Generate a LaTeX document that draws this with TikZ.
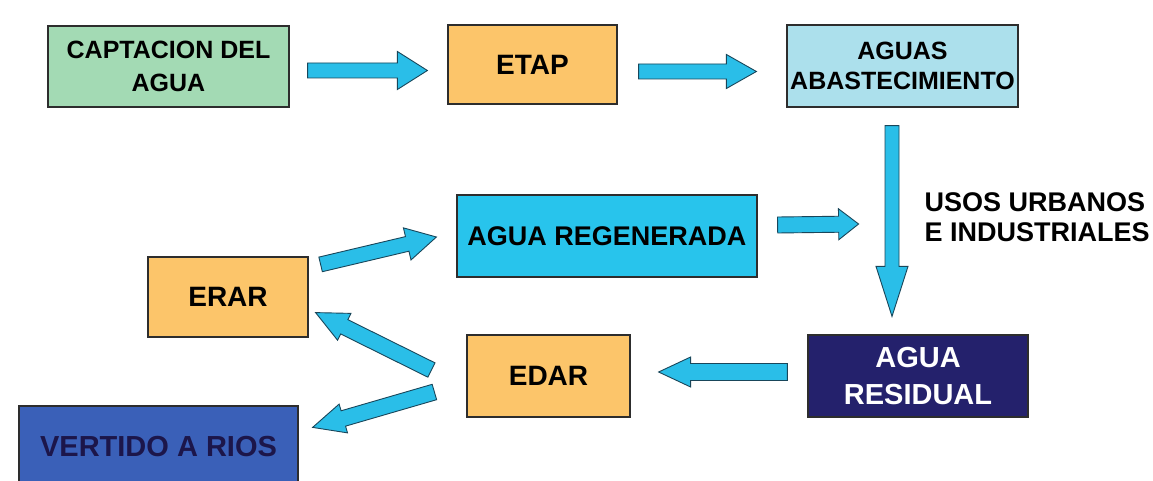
\documentclass[tikz,border=0pt]{standalone}
\usepackage{fontspec}
\setmainfont{Liberation Sans}
\usetikzlibrary{calc}
\definecolor{capgreen}{RGB}{163,218,180}
\definecolor{plantorange}{RGB}{252,197,106}
\definecolor{supplyblue}{RGB}{172,224,236}
\definecolor{reusecyan}{RGB}{40,196,236}
\definecolor{wastenavy}{RGB}{36,33,108}
\definecolor{riverblue}{RGB}{58,96,184}
\definecolor{rivertext}{RGB}{28,22,74}
\definecolor{arrowcyan}{RGB}{42,190,232}
\definecolor{arrowline}{RGB}{25,70,90}
\definecolor{boxline}{RGB}{45,45,45}
% #1 tail, #2 tip, #3 half shaft, #4 half head, #5 head length
\newcommand{\fatarrow}[5]{%
\path[flow] let \p1=(#1), \p2=(#2), \n1={atan2(\y2-\y1,\x2-\x1)} in
 ($(\p1)+(\n1+90:#3)$) -- ($(\p2)+(\n1+180:#5)+(\n1+90:#3)$) -- ($(\p2)+(\n1+180:#5)+(\n1+90:#4)$)
 -- (\p2) -- ($(\p2)+(\n1+180:#5)+(\n1-90:#4)$) -- ($(\p2)+(\n1+180:#5)+(\n1-90:#3)$)
 -- ($(\p1)+(\n1-90:#3)$) -- cycle;}
\begin{document}
\begin{tikzpicture}[x=1pt,y=-1pt,
 box/.style={draw=boxline,line width=1.2pt,align=center,inner sep=0pt},
 flow/.style={fill=arrowcyan,draw=arrowline,line width=0.9pt,line join=miter}]
\useasboundingbox (0,0) rectangle (1153,481);
\node[box,fill=capgreen,minimum width=241,minimum height=81,font=\fontsize{25}{33}\selectfont\bfseries] (capt) at (168.5,66.5) {CAPTACION DEL\\AGUA};
\node[box,fill=plantorange,minimum width=169,minimum height=79,font=\fontsize{28}{34}\selectfont\bfseries] (etap) at (532.5,64.5) {ETAP};
\node[box,fill=supplyblue,minimum width=231,minimum height=82,font=\fontsize{25}{30}\selectfont\bfseries] (aguas) at (902.5,66) {AGUAS\\ABASTECIMIENTO};
\node[box,fill=reusecyan,minimum width=300,minimum height=82,font=\fontsize{27}{34}\selectfont\bfseries] (reg) at (607,236) {AGUA REGENERADA};
\node[box,fill=plantorange,minimum width=160,minimum height=80,font=\fontsize{28}{34}\selectfont\bfseries] (erar) at (228,297) {ERAR};
\node[box,fill=plantorange,minimum width=163,minimum height=82,font=\fontsize{28}{34}\selectfont\bfseries] (edar) at (548.5,376) {EDAR};
\node[box,fill=wastenavy,text=white,minimum width=220,minimum height=82,font=\fontsize{29}{37}\selectfont\bfseries] (resid) at (918,376) {AGUA\\RESIDUAL};
\node[box,fill=riverblue,text=rivertext,minimum width=279,minimum height=82,font=\fontsize{29}{34}\selectfont\bfseries] (vert) at (158.5,447) {VERTIDO A RIOS};
\node[anchor=west,align=left,font=\fontsize{27}{30}\selectfont\bfseries] (usos) at (921,217) {USOS URBANOS\\E INDUSTRIALES};
\fatarrow{$(capt.east)+(18,4)$}{$(etap.west)+(-20,6)$}{7.5pt}{19pt}{30pt}
\fatarrow{$(etap.east)+(21,7)$}{$(aguas.west)+(-30,5.5)$}{7.5pt}{17pt}{30pt}
\fatarrow{$(aguas.south)+(-10.5,18)$}{$(resid.north)+(-26,-18)$}{7pt}{16pt}{50pt}
\fatarrow{$(reg.east)+(20,-11)$}{$(reg.east)+(101,-12)$}{8pt}{15.5pt}{20pt}
\fatarrow{$(erar.north east)+(12,8)$}{$(reg.west)+(-20,1)$}{7.5pt}{16.5pt}{30pt}
\fatarrow{$(edar.west)+(-35,-6)$}{$(erar.south east)+(7,-25)$}{8pt}{15pt}{32pt}
\fatarrow{$(edar.west)+(-32,16)$}{$(vert.north east)+(14,22)$}{8pt}{15pt}{32pt}
\fatarrow{$(resid.west)+(-20,-4)$}{$(edar.east)+(28,-4)$}{8.5pt}{15pt}{32pt}
\end{tikzpicture}
\end{document}
